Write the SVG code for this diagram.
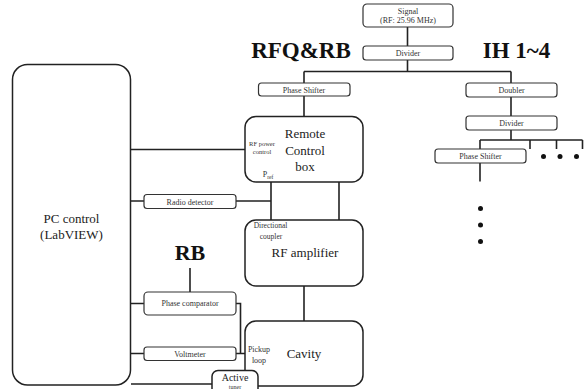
<svg xmlns="http://www.w3.org/2000/svg" width="585" height="389" viewBox="0 0 585 389" font-family="'Liberation Serif','Times New Roman',serif">
<style>
.box{fill:#fff;stroke:#333;stroke-width:1.2}
.big{fill:#fff;stroke:#222;stroke-width:1.5}
.ln{fill:none;stroke:#222;stroke-width:1.6}
text{font-family:"Liberation Serif","Times New Roman",serif;fill:#333;text-anchor:middle}
.s{font-size:8px}
.m{font-size:13px;fill:#222}
.h{font-size:23px;font-weight:bold;fill:#111}
</style>
<g id="connectors">
<path class="ln" d="M407.5,27 V46 M407.5,60 V71.5 M304,71.5 H511 M304,71.5 V83 M304,96 V116 M511,71.5 V83"/>
<path class="ln" d="M511,97 V116 M511,130 V140 M480,140 H582.5 M480,140 V149 M530,140 V149 M556.5,140 V149 M582.5,140 V149 M480,163 V181.5"/>
<path class="ln" d="M131,149.5 H245 M131,201 H144 M236,201 H271 M271,182 V220 M339,182 V220 M304,286 V321"/>
<path class="ln" d="M131,303.5 H144 M190,268 V292 M236,303.5 H240.5 V353.5 M131,353.5 H144 M236,353.5 H245 M131,384 H212"/>
</g>
<g id="dots" fill="#111">
<circle cx="543.5" cy="156.5" r="2.5"/><circle cx="560" cy="156.5" r="2.5"/><circle cx="576.5" cy="156.5" r="2.5"/>
<circle cx="480.5" cy="208.5" r="2.5"/><circle cx="480.5" cy="225" r="2.5"/><circle cx="480.5" cy="241.5" r="2.5"/>
</g>
<g id="labels">
<text class="h" x="301" y="58">RFQ&amp;RB</text>
<text class="h" x="516.5" y="58">IH 1~4</text>
<text class="h" x="190" y="260" style="font-size:22px">RB</text>
</g>
<g id="signal"><rect class="box" x="363" y="4" width="90" height="23" rx="4"/><text class="s" x="408" y="13.5">Signal</text><text class="s" x="408" y="23">(RF: 25.96 MHz)</text></g>
<g id="divider1"><rect class="box" x="363" y="46" width="90" height="14" rx="3"/><text class="s" x="408" y="56">Divider</text></g>
<g id="phase-shifter-rfq"><rect class="box" x="258.5" y="83" width="91.5" height="13" rx="3"/><text class="s" x="304" y="92.5">Phase Shifter</text></g>
<g id="doubler"><rect class="box" x="466" y="83" width="91" height="14" rx="3"/><text class="s" x="511.5" y="93">Doubler</text></g>
<g id="divider2"><rect class="box" x="466" y="116" width="91" height="14" rx="3"/><text class="s" x="511.5" y="126">Divider</text></g>
<g id="phase-shifter-ih"><rect class="box" x="435" y="149" width="91" height="14" rx="3"/><text class="s" x="480.5" y="159">Phase Shifter</text></g>
<g id="pc-control"><rect class="big" x="12.5" y="64.5" width="118" height="320.5" rx="15"/><text class="m" x="71.5" y="223">PC control</text><text class="m" x="71.5" y="239">(LabVIEW)</text></g>
<g id="remote-control-box"><rect class="big" x="245" y="116.5" width="118" height="65.5" rx="11"/>
<text class="m" x="305" y="138">Remote</text><text class="m" x="305" y="155">Control</text><text class="m" x="305" y="171">box</text>
<text x="262" y="146" style="font-size:6.5px">RF power</text><text x="262" y="154" style="font-size:6.5px">control</text>
<text x="268" y="177" style="font-size:8px">P<tspan dy="1.5" style="font-size:5.5px">ref</tspan></text></g>
<g id="radio-detector"><rect class="box" x="144" y="194.5" width="92" height="14" rx="3"/><text class="s" x="190" y="204.5">Radio detector</text></g>
<g id="rf-amplifier"><rect class="big" x="245" y="220" width="118" height="66" rx="11"/>
<text class="m" x="305" y="257">RF amplifier</text>
<text x="270.5" y="228" style="font-size:7.5px">Directional</text><text x="271" y="239" style="font-size:7.5px">coupler</text></g>
<g id="phase-comparator"><rect class="box" x="144" y="292" width="92" height="23" rx="4"/><text class="s" x="190" y="306">Phase comparator</text></g>
<g id="voltmeter"><rect class="box" x="144" y="347" width="92" height="13.5" rx="3"/><text class="s" x="190" y="356.5">Voltmeter</text></g>
<g id="cavity"><rect class="big" x="245" y="321" width="118" height="65" rx="11"/>
<text class="m" x="304" y="358">Cavity</text>
<text x="259" y="352" style="font-size:8px">Pickup</text><text x="259" y="363" style="font-size:8px">loop</text></g>
<g id="active-tuner"><rect class="big" x="212" y="370.5" width="46" height="30" rx="6"/><text x="235" y="381" style="font-size:10px;fill:#222">Active</text><text x="235" y="388.5" style="font-size:6px">tuner</text></g>
</svg>
